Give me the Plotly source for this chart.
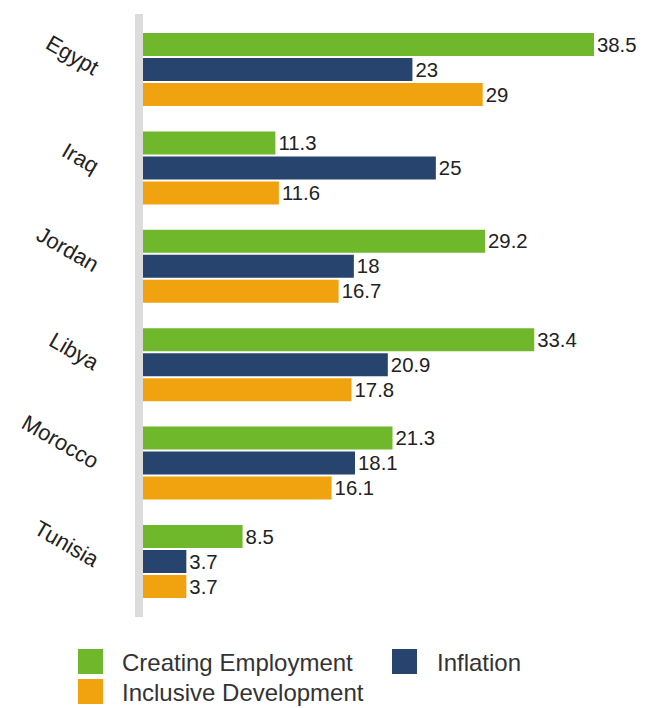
import plotly.graph_objects as go

countries = ["Egypt", "Iraq", "Jordan", "Libya", "Morocco", "Tunisia"]
series_names = ["Creating Employment", "Inflation", "Inclusive Development"]
creating_employment = [38.5, 11.3, 29.2, 33.4, 21.3, 8.5]
inflation = [23, 25, 18, 20.9, 18.1, 3.7]
inclusive_development = [29, 11.6, 16.7, 17.8, 16.1, 3.7]
colors = ["#6fb82b", "#27446e", "#f0a30f"]

W, H = 645, 708
L, R, T, B = 143, 25, 14, 91
PW, PH = W - L - R, H - T - B
FONT = "Liberation Sans, Arial, sans-serif"

def px_x(px):
    return (px - L) / PW

def px_y(py):
    return (H - B - py) / PH

fig = go.Figure()
for name, vals, col in zip(series_names, [creating_employment, inflation, inclusive_development], colors):
    fig.add_trace(go.Bar(
        y=countries, x=vals, name=name, orientation="h",
        marker=dict(color=col, line=dict(width=0)),
        text=[f"{v:g}" for v in vals], textposition="outside",
        textfont=dict(size=23, color="#222222", family=FONT),
        cliponaxis=False, showlegend=False,
    ))

# manual legend (large square swatches)
legend_items = [
    (series_names[0], colors[0], 78, 649, 120, 662),
    (series_names[1], colors[1], 392, 649, 435, 662),
    (series_names[2], colors[2], 78, 679, 120, 692),
]
shapes = []
annotations = []
for name, col, sx, sy, tx, ty in legend_items:
    shapes.append(dict(type="rect", xref="paper", yref="paper",
                       x0=px_x(sx), x1=px_x(sx + 25), y0=px_y(sy + 25), y1=px_y(sy),
                       fillcolor=col, line=dict(width=0)))
    annotations.append(dict(xref="paper", yref="paper", x=px_x(tx), y=px_y(ty),
                            text=name, showarrow=False, xanchor="left", yanchor="middle",
                            font=dict(size=24, color="#333333", family=FONT)))

fig.update_layout(
    width=W, height=H,
    margin=dict(l=L, r=R, t=T, b=B, pad=0),
    barmode="group", bargap=0.238, bargroupgap=0.08,
    plot_bgcolor="white", paper_bgcolor="white",
    showlegend=False,
    shapes=shapes, annotations=annotations,
    font=dict(family=FONT),
)
fig.update_xaxes(range=[0, PW / 11.714], visible=False, showgrid=False, zeroline=False)
fig.update_yaxes(
    range=[5.564, -0.564], showgrid=False, zeroline=False,
    showline=True, linecolor="#dcdcdc", linewidth=8,
    tickangle=30, ticks="", ticklabelstandoff=32,
    tickfont=dict(size=22, color="#222222", family=FONT),
)
fig.write_html("out.html")
